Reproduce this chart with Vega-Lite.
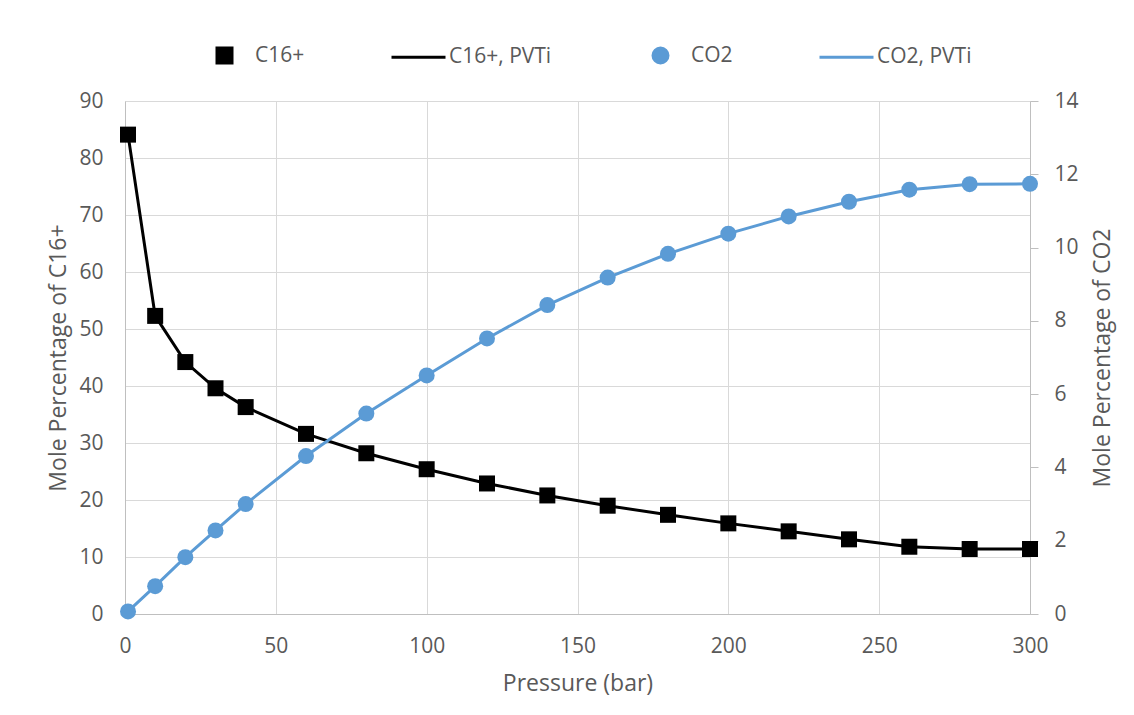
{
  "$schema": "https://vega.github.io/schema/vega-lite/v6.json",
  "width": 905,
  "height": 513,
  "autosize": {"type": "none"},
  "padding": {"left": 125, "top": 101, "right": 104, "bottom": 101},
  "background": "white",
  "config": {
    "font": "Open Sans",
    "view": {"stroke": null},
    "axis": {
      "labelFont": "Open Sans",
      "titleFont": "Open Sans",
      "labelFontSize": 21,
      "titleFontSize": 23,
      "labelColor": "#595959",
      "titleColor": "#595959",
      "titleFontWeight": "normal",
      "domainColor": "#BFBFBF",
      "domainWidth": 1,
      "gridColor": "#D9D9D9",
      "gridWidth": 1,
      "tickColor": "#BFBFBF",
      "labelFlush": false
    }
  },
  "datasets": {
    "c16": [
      {"p": 1, "v": 84.1}, {"p": 10, "v": 52.3}, {"p": 20, "v": 44.2}, {"p": 30, "v": 39.6},
      {"p": 40, "v": 36.3}, {"p": 60, "v": 31.6}, {"p": 80, "v": 28.2}, {"p": 100, "v": 25.4},
      {"p": 120, "v": 22.9}, {"p": 140, "v": 20.8}, {"p": 160, "v": 19.0}, {"p": 180, "v": 17.4},
      {"p": 200, "v": 15.9}, {"p": 220, "v": 14.5}, {"p": 240, "v": 13.1}, {"p": 260, "v": 11.8},
      {"p": 280, "v": 11.4}, {"p": 300, "v": 11.4}
    ],
    "co2": [
      {"p": 1, "v": 0.07}, {"p": 10, "v": 0.76}, {"p": 20, "v": 1.55}, {"p": 30, "v": 2.28},
      {"p": 40, "v": 3.0}, {"p": 60, "v": 4.31}, {"p": 80, "v": 5.47}, {"p": 100, "v": 6.51},
      {"p": 120, "v": 7.52}, {"p": 140, "v": 8.43}, {"p": 160, "v": 9.18}, {"p": 180, "v": 9.83},
      {"p": 200, "v": 10.38}, {"p": 220, "v": 10.85}, {"p": 240, "v": 11.25}, {"p": 260, "v": 11.58},
      {"p": 280, "v": 11.73}, {"p": 300, "v": 11.74}
    ]
  },
  "encoding": {
    "x": {
      "field": "p",
      "type": "quantitative",
      "scale": {"domain": [0, 300], "nice": false},
      "axis": {
        "title": "Pressure (bar)",
        "values": [0, 50, 100, 150, 200, 250, 300],
        "grid": true,
        "ticks": false,
        "labelPadding": 21,
        "titlePadding": 16
      }
    }
  },
  "layer": [
    {
      "data": {"name": "c16"},
      "encoding": {
        "y": {
          "field": "v",
          "type": "quantitative",
          "scale": {"domain": [0, 90], "nice": false},
          "axis": {
            "title": "Mole Percentage of C16+",
            "orient": "left",
            "values": [0, 10, 20, 30, 40, 50, 60, 70, 80, 90],
            "grid": true,
            "ticks": false,
            "labelPadding": 22,
            "titlePadding": 8
          }
        }
      },
      "layer": [
        {
          "mark": {"type": "line", "strokeWidth": 3},
          "encoding": {
            "color": {
              "datum": "C16+, PVTi",
              "type": "nominal",
              "scale": {"domain": ["C16+", "C16+, PVTi", "CO2", "CO2, PVTi"], "range": ["#000000", "#000000", "#5B9BD5", "#5B9BD5"]},
              "legend": {
                "orient": "none",
                "legendX": 71,
                "legendY": -74,
                "direction": "horizontal",
                "title": null,
                "labelFont": "Open Sans",
                "labelFontSize": 21,
                "labelColor": "#595959",
                "symbolSize": 2916,
                "symbolStrokeWidth": 3,
                "columnPadding": 80,
                "labelOffset": 2,
                "encode": {
                  "symbols": {
                    "update": {
                      "shape": {"signal": "datum.value === 'C16+' ? 'square' : datum.value === 'CO2' ? 'circle' : 'stroke'"},
                      "size": {"signal": "datum.value === 'C16+' ? 225 : datum.value === 'CO2' ? 225 : 2916"},
                      "fill": {"signal": "datum.value === 'C16+' ? '#000000' : datum.value === 'CO2' ? '#5B9BD5' : 'transparent'"},
                      "stroke": {"signal": "datum.value === 'C16+, PVTi' ? '#000000' : datum.value === 'CO2, PVTi' ? '#5B9BD5' : 'transparent'"},
                      "strokeWidth": {"value": 3},
                      "opacity": {"value": 1}
                    }
                  }
                }
              }
            }
          }
        },
        {
          "mark": {"type": "point", "shape": "square", "filled": true, "size": 256, "opacity": 1},
          "encoding": {
            "color": {"datum": "C16+", "type": "nominal"}
          }
        }
      ]
    },
    {
      "data": {"name": "co2"},
      "encoding": {
        "y": {
          "field": "v",
          "type": "quantitative",
          "scale": {"domain": [0, 14], "nice": false},
          "axis": {
            "title": "Mole Percentage of CO2",
            "orient": "right",
            "values": [0, 2, 4, 6, 8, 10, 12, 14],
            "grid": false,
            "ticks": true,
            "tickSize": 8,
            "labelPadding": 16,
            "titleAngle": 270,
            "titleBaseline": "top",
            "titlePadding": 13
          }
        }
      },
      "layer": [
        {
          "mark": {"type": "line", "strokeWidth": 3},
          "encoding": {
            "color": {"datum": "CO2, PVTi", "type": "nominal"}
          }
        },
        {
          "mark": {"type": "point", "shape": "circle", "filled": true, "size": 256, "opacity": 1},
          "encoding": {
            "color": {"datum": "CO2", "type": "nominal"}
          }
        }
      ]
    }
  ],
  "resolve": {"scale": {"y": "independent"}}
}
